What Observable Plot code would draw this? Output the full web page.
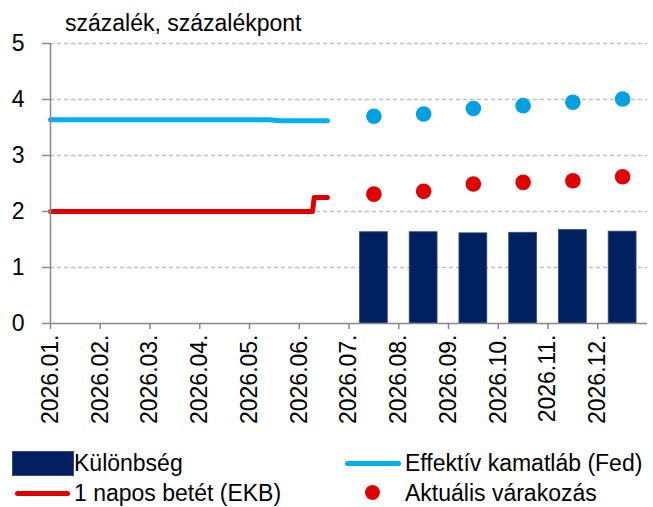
<!DOCTYPE html>
<html>
<head>
<meta charset="utf-8">
<script src="https://cdn.jsdelivr.net/npm/d3@7"></script>
<script src="https://cdn.jsdelivr.net/npm/@observablehq/plot@0.6"></script>
<style>
  body { margin: 0; background: #fff; font-family: "Liberation Sans", Arial, sans-serif; }
  #wrap { width: 653px; height: 507px; overflow: hidden; }
  #title { height: 34px; box-sizing: border-box; padding-top: 12px; padding-left: 65px; font-size: 23px; line-height: 23px; color: #000; white-space: nowrap; }
  #legend { position: relative; height: 57px; font-size: 23px; line-height: 23px; color: #000; }
  #legend .t { position: absolute; white-space: nowrap; }
  svg { overflow: visible; }
</style>
</head>
<body>
<div id="wrap">
  <div id="title">százalék, százalékpont</div>
  <div id="chart"></div>
  <div id="legend"></div>
</div>
<script>
// ---- data ----
const monthLabels = ["2026.01.","2026.02.","2026.03.","2026.04.","2026.05.","2026.06.","2026.07.","2026.08.","2026.09.","2026.10.","2026.11.","2026.12."];
const yTicks = [0, 1, 2, 3, 4, 5];

// daily series (date, value)
const fedDates  = ["2026-01-01", "2026-05-13", "2026-05-20", "2026-06-18"];
const fedValues = [3.64, 3.64, 3.62, 3.62];
const ecbDates  = ["2026-01-01", "2026-06-09", "2026-06-10", "2026-06-18"];
const ecbValues = [2.00, 2.00, 2.25, 2.25];

// monthly expectations (July..December)
const expMonths   = ["2026.07.","2026.08.","2026.09.","2026.10.","2026.11.","2026.12."];
const fedExpected = [3.70, 3.74, 3.84, 3.89, 3.95, 4.01];
const ecbExpected = [2.31, 2.36, 2.49, 2.52, 2.55, 2.62];
const difference  = [1.63, 1.63, 1.61, 1.62, 1.67, 1.64];

const legendLabels = {
  diff: "Különbség",
  fed: "Effektív kamatláb (Fed)",
  ecb: "1 napos betét (EKB)",
  exp: "Aktuális várakozás"
};

// ---- helpers ----
function monthPos(dateStr) {
  const [y, m, d] = dateStr.split("-").map(Number);
  const days = new Date(y, m, 0).getDate();
  return (m - 1) + (d - 1) / days;
}
const fed = fedDates.map((d, i) => ({x: monthPos(d), y: fedValues[i]}));
const ecb = ecbDates.map((d, i) => ({x: monthPos(d), y: ecbValues[i]}));
const monthly = expMonths.map((lab, i) => ({
  m: monthLabels.indexOf(lab),
  fed: fedExpected[i], ecb: ecbExpected[i], diff: difference[i]
}));

const NAVY = "#002060", BLUE_LINE = "#00B0F0", BLUE_DOT = "#00A0E3", RED = "#E00000", AXIS = "#898989";
const barHalf = 0.28;

const chart = Plot.plot({
  width: 653,
  height: 416,
  marginLeft: 50,
  marginRight: 6,
  marginTop: 9,
  marginBottom: 127,
  style: {fontFamily: "Liberation Sans, Arial, sans-serif", fontSize: "23px", color: "#000", background: "transparent"},
  x: {type: "linear", domain: [0, 12]},
  y: {domain: [0, 5]},
  marks: [
    Plot.gridY(yTicks.filter(t => t > 0), {stroke: "#bfbfbf", strokeOpacity: 1, strokeWidth: 1.3, strokeDasharray: "4,3"}),
    Plot.rectY(monthly, {x1: d => d.m + 0.5 - barHalf, x2: d => d.m + 0.5 + barHalf, y: "diff", fill: NAVY, stroke: "#3a4d7a", strokeWidth: 0.8}),
    Plot.line(fed, {x: "x", y: "y", stroke: BLUE_LINE, strokeWidth: 5, strokeLinecap: "round", strokeLinejoin: "round"}),
    Plot.line(ecb, {x: "x", y: "y", stroke: RED, strokeWidth: 5, strokeLinecap: "round", strokeLinejoin: "round"}),
    Plot.dot(monthly, {x: d => d.m + 0.5, y: "fed", r: 7.8, fill: BLUE_DOT}),
    Plot.dot(monthly, {x: d => d.m + 0.5, y: "ecb", r: 7.8, fill: RED}),
    Plot.ruleY([0], {stroke: AXIS, strokeWidth: 1.5}),
    Plot.ruleX([0], {stroke: AXIS, strokeWidth: 1.5}),
    Plot.axisY({ticks: yTicks, tickSize: 8, tickPadding: 18, stroke: AXIS, strokeWidth: 1.5, color: "#000", fontSize: 23, label: null, tickFormat: d => String(d)}),
    Plot.axisX({ticks: d3.range(monthLabels.length), tickFormat: i => monthLabels[i], tickRotate: -90, tickSize: 6, tickPadding: 5, stroke: AXIS, strokeWidth: 1.5, color: "#000", fontSize: 23, label: null})
  ]
});
document.getElementById("chart").appendChild(chart);

// ---- legend ----
const lg = document.getElementById("legend");
function add(html) { lg.insertAdjacentHTML("beforeend", html); }
add(`<div style="position:absolute;left:12px;top:1px;width:60px;height:23px;background:${NAVY};border:1px solid #3a4d7a"></div>`);
add(`<div class="t" style="left:74px;top:2px">${legendLabels.diff}</div>`);
add(`<div style="position:absolute;left:345px;top:11px;width:56px;height:5px;border-radius:3px;background:${BLUE_LINE}"></div>`);
add(`<div class="t" style="left:405px;top:2px">${legendLabels.fed}</div>`);
add(`<div style="position:absolute;left:15px;top:41px;width:55px;height:5px;border-radius:3px;background:${RED}"></div>`);
add(`<div class="t" style="left:74px;top:32px">${legendLabels.ecb}</div>`);
add(`<div style="position:absolute;left:365px;top:35px;width:15px;height:15px;border-radius:50%;background:${RED}"></div>`);
add(`<div class="t" style="left:405px;top:32px">${legendLabels.exp}</div>`);
</script>
</body>
</html>
